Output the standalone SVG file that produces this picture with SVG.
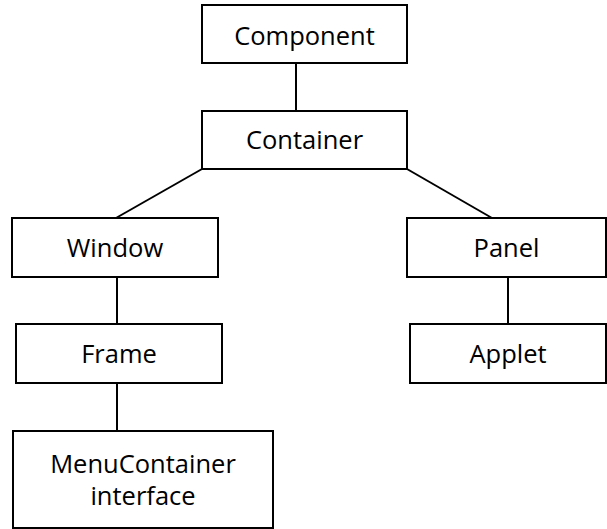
<svg xmlns="http://www.w3.org/2000/svg" width="607" height="529" viewBox="0 0 607 529">
<style>
rect{fill:#fff;stroke:#000;stroke-width:2}
line{stroke:#000;stroke-width:2}
text{font-family:"Open Sans","Liberation Sans",sans-serif;font-size:25.5px;text-anchor:middle;fill:#000}
</style>
<rect x="0" y="0" width="607" height="529" style="stroke:none"/>
<g id="connectors">
<line x1="296" y1="63" x2="296" y2="111"/>
<line x1="202" y1="169" x2="116" y2="218"/>
<line x1="407" y1="169" x2="492" y2="218"/>
<line x1="117" y1="277" x2="117" y2="324"/>
<line x1="117" y1="383" x2="117" y2="431"/>
<line x1="508" y1="277" x2="508" y2="324"/>
</g>
<g id="component"><rect x="202" y="5" width="205" height="58"/><text x="304.5" y="45">Component</text></g>
<g id="container"><rect x="202" y="111" width="205" height="58"/><text x="304.5" y="149">Container</text></g>
<g id="window"><rect x="12" y="218" width="206" height="59"/><text x="115" y="257">Window</text></g>
<g id="frame"><rect x="16" y="324" width="206" height="59"/><text x="119" y="363">Frame</text></g>
<g id="menucontainer"><rect x="13" y="431" width="260" height="97"/><text x="143" y="473">MenuContainer</text><text x="143" y="505">interface</text></g>
<g id="panel"><rect x="407" y="218" width="199" height="59"/><text x="506.5" y="257">Panel</text></g>
<g id="applet"><rect x="410" y="324" width="196" height="59"/><text x="508" y="363">Applet</text></g>
</svg>
